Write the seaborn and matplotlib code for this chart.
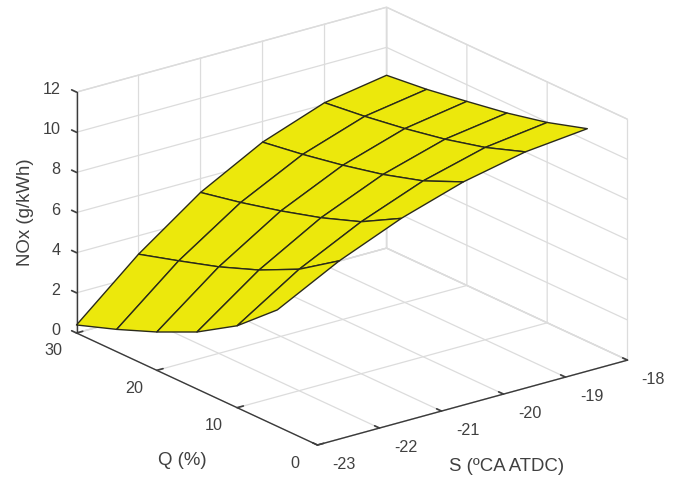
import numpy as np
import matplotlib
matplotlib.use("Agg")
import matplotlib.pyplot as plt
import seaborn as sns
from mpl_toolkits.mplot3d import proj3d

S_values = [-23, -22, -21, -20, -19, -18]
Q_values = [30, 25, 20, 15, 10, 5]
nox_s23 = [0.40, 1.11, 1.91, 2.84, 4.08, 5.80]
nox_s22 = [3.08, 3.68, 4.31, 5.08, 6.05, 7.40]
nox_s21 = [5.31, 5.74, 6.25, 6.84, 7.57, 8.67]
nox_s20 = [6.97, 7.29, 7.68, 8.15, 8.76, 9.64]
nox_s19 = [8.09, 8.34, 8.66, 9.06, 9.58, 10.29]
nox_s18 = [8.61, 8.84, 9.17, 9.52, 9.98, 10.60]
z_ticks = [0, 2, 4, 6, 8, 10, 12]
q_ticks = [0, 10, 20, 30]

sns.set_theme(style="white")
plt.rcParams["font.family"] = ["Liberation Sans", "DejaVu Sans"]
plt.rcParams["axes.unicode_minus"] = False
INK = "#404040"
W, H = 681, 481

fig = plt.figure(figsize=(W / 100, H / 100), dpi=100, facecolor="white")
ax = fig.add_axes([0, 0, 1, 1], projection="3d", proj_type="ortho")
ax.view_init(elev=20.9, azim=-127.5)
ax.set_xlim(-23, -18)
ax.set_ylim(0, 30)
ax.set_zlim(0, 12)
aspect = (391, 396, 258)
ax.set_box_aspect(aspect)

S, Q = np.meshgrid(S_values, Q_values, indexing="ij")
NOX = np.array([nox_s23, nox_s22, nox_s21, nox_s20, nox_s19, nox_s18])
surf = ax.plot_surface(S, Q, NOX, rstride=1, cstride=1, color="#ece80c", shade=False,
                       edgecolor="#2a2a1a", linewidth=1.0, antialiased=True)
surf.set_clip_on(False)

ax.set_xticks(S_values)
ax.set_yticks(q_ticks)
ax.set_zticks(z_ticks)
for axis in (ax.xaxis, ax.yaxis, ax.zaxis):
    axis.set_pane_color((1, 1, 1, 1))
    axis.pane.set_edgecolor("#dcdcdc")
    axis.line.set_color("#3a3a3a")
    axis.line.set_linewidth(1.0)
    axis._axinfo["grid"].update(color="#dcdcdc", linewidth=0.9)
    axis._axinfo["tick"].update(inward_factor=0.0, outward_factor=0.25)
ax.zaxis._get_tickdir = lambda pos: 1
ax.tick_params(axis="x", labelsize=11.6, colors=INK)
ax.tick_params(axis="y", labelsize=11.6, colors=INK)
ax.tick_params(axis="z", labelsize=11.6, colors=INK)
ax.set_xlabel("S (ºCA ATDC)", fontsize=13.4, color=INK)
ax.set_ylabel("Q (%)", fontsize=13.4, color=INK)
ax.set_zlabel("NOx (g/kWh)", fontsize=13.4, color=INK, rotation=90)
for axis in (ax.xaxis, ax.yaxis, ax.zaxis):
    axis.set_rotate_label(False)
ax.grid(True)


def to_px(x, y, z):
    ax.apply_aspect()
    px, py, _ = proj3d.proj_transform(x, y, z, ax.get_proj())
    return ax.transData.transform((px, py))


# frame the axes box: floor-left corner and right corner on the wanted pixels
a = to_px(-23, 30, 0)
b = to_px(-18, 0, 0)
zoom = (627 - 76) / (b[0] - a[0])
ax.set_box_aspect(aspect, zoom=zoom)
a = to_px(-23, 30, 0)
dx, dy = 76.5 - a[0], (H - 334) - a[1]
ax.set_position([dx / W, dy / H, 1, 1])


def pin(text, x_px, y_px):
    """Hold a text at a display position (y counted from the top of the image)."""
    x, y = ax.transData.inverted().transform((x_px, H - y_px))
    type(text).set_position(text, (x, y))
    text.set_position = lambda *args: None
    text.set_x = lambda *args: None
    text.set_y = lambda *args: None


for tick, v in zip(ax.xaxis.get_major_ticks(), S_values):
    p = to_px(v, 0, 0)
    tick.label1.set_va("center")
    pin(tick.label1, p[0] + 26, H - p[1] + 18.5)
for tick, v in zip(ax.yaxis.get_major_ticks(), q_ticks):
    p = to_px(-23, v, 0)
    tick.label1.set_va("center")
    pin(tick.label1, p[0] - 23, H - p[1] + 17)
for tick, v in zip(ax.zaxis.get_major_ticks(), z_ticks):
    p = to_px(-23, 30, v)
    tick.label1.set_ha("right")
    tick.label1.set_va("center")
    pin(tick.label1, p[0] - 16, H - p[1] - 3.5)
pin(ax.xaxis.label, 507, 467)
pin(ax.yaxis.label, 182, 461)
pin(ax.zaxis.label, 25, 212)

fig.savefig("out.png", dpi=100, facecolor="white")
